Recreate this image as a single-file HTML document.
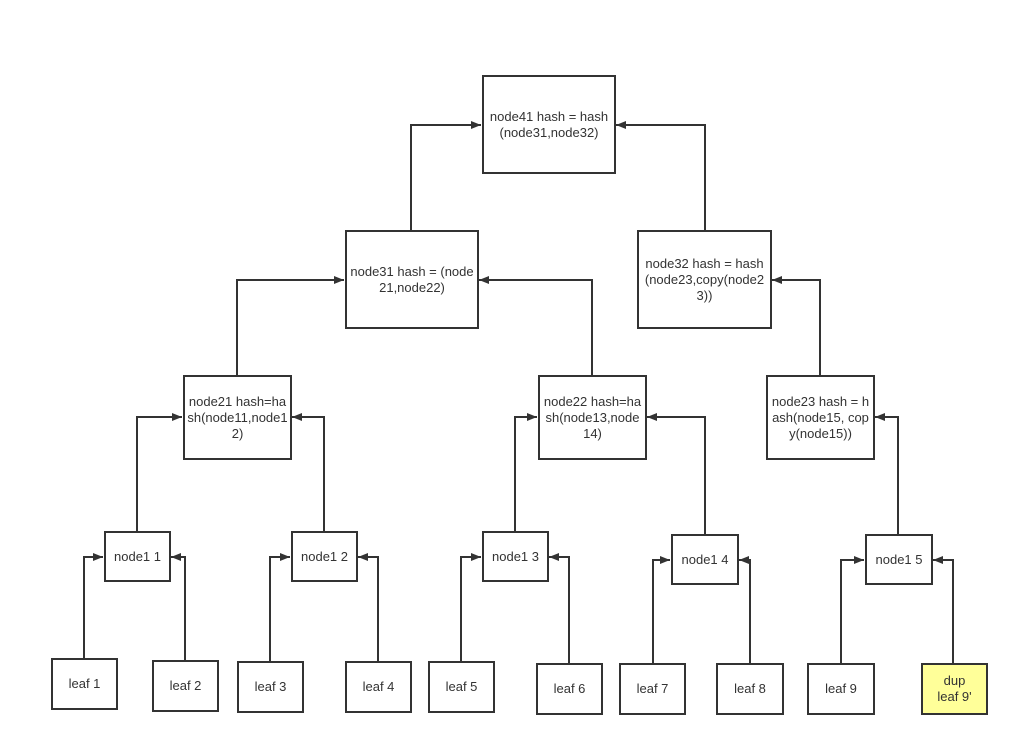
<!DOCTYPE html>
<html><head><meta charset="utf-8"><style>
html,body{margin:0;padding:0;background:#fff;}
body{width:1015px;height:740px;position:relative;overflow:hidden;font-family:"Liberation Sans","Noto Sans CJK SC",sans-serif;}
.b{position:absolute;box-sizing:border-box;border:2px solid #333;background:#fff;display:flex;align-items:center;justify-content:center;text-align:center;font-size:13px;line-height:16px;color:#333;word-break:break-all;padding:0 2px;}
svg{position:absolute;left:0;top:0;}
</style></head><body>
<svg width="1015" height="740">
<defs><marker id="a" markerWidth="10" markerHeight="8" refX="10" refY="4" orient="auto" markerUnits="userSpaceOnUse"><path d="M0,0 L10,4 L0,8 z" fill="#333"/></marker></defs>
<g stroke="#333" stroke-width="2" fill="none" marker-end="url(#a)">
<polyline points="84,658 84,557 103,557"/>
<polyline points="185,660 185,557 171,557"/>
<polyline points="270,661 270,557 290,557"/>
<polyline points="378,661 378,557 358,557"/>
<polyline points="461,661 461,557 481,557"/>
<polyline points="569,663 569,557 549,557"/>
<polyline points="653,663 653,560 670,560"/>
<polyline points="750,663 750,560 739,560"/>
<polyline points="841,663 841,560 864,560"/>
<polyline points="953,663 953,560 933,560"/>
<polyline points="137,531 137,417 182,417"/>
<polyline points="324,531 324,417 292,417"/>
<polyline points="515,531 515,417 537,417"/>
<polyline points="705,534 705,417 647,417"/>
<polyline points="898,534 898,417 875,417"/>
<polyline points="237,375 237,280 344,280"/>
<polyline points="592,375 592,280 479,280"/>
<polyline points="820,375 820,280 772,280"/>
<polyline points="411,230 411,125 481,125"/>
<polyline points="705,230 705,125 616,125"/>
</g></svg>
<div class="b" style="left:482px;top:75px;width:134px;height:99px;">node41 hash = hash(node31,node32)</div>
<div class="b" style="left:345px;top:230px;width:134px;height:99px;">node31 hash = (node21,node22)</div>
<div class="b" style="left:637px;top:230px;width:135px;height:99px;">node32 hash = hash(node23,copy(node23))</div>
<div class="b" style="left:183px;top:375px;width:109px;height:85px;">node21 hash=hash(node11,node12)</div>
<div class="b" style="left:538px;top:375px;width:109px;height:85px;">node22 hash=hash(node13,node14)</div>
<div class="b" style="left:766px;top:375px;width:109px;height:85px;">node23 hash = hash(node15, copy(node15))</div>
<div class="b" style="left:104px;top:531px;width:67px;height:51px;">node1 1</div>
<div class="b" style="left:291px;top:531px;width:67px;height:51px;">node1 2</div>
<div class="b" style="left:482px;top:531px;width:67px;height:51px;">node1 3</div>
<div class="b" style="left:671px;top:534px;width:68px;height:51px;">node1 4</div>
<div class="b" style="left:865px;top:534px;width:68px;height:51px;">node1 5</div>
<div class="b" style="left:51px;top:658px;width:67px;height:52px;">leaf 1</div>
<div class="b" style="left:152px;top:660px;width:67px;height:52px;">leaf 2</div>
<div class="b" style="left:237px;top:661px;width:67px;height:52px;">leaf 3</div>
<div class="b" style="left:345px;top:661px;width:67px;height:52px;">leaf 4</div>
<div class="b" style="left:428px;top:661px;width:67px;height:52px;">leaf 5</div>
<div class="b" style="left:536px;top:663px;width:67px;height:52px;">leaf 6</div>
<div class="b" style="left:619px;top:663px;width:67px;height:52px;">leaf 7</div>
<div class="b" style="left:716px;top:663px;width:68px;height:52px;">leaf 8</div>
<div class="b" style="left:807px;top:663px;width:68px;height:52px;">leaf 9</div>
<div class="b" style="left:921px;top:663px;width:67px;height:52px;background:#ffff99;">dup<br>leaf 9'</div>
</body></html>
